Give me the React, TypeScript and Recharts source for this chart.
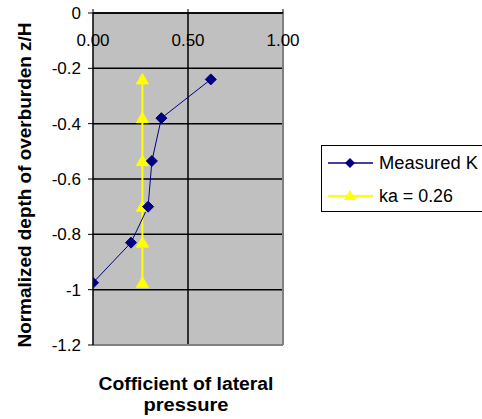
import React from "react";
import { LineChart, Line, XAxis, YAxis, CartesianGrid, ReferenceLine, Legend } from "recharts";

// normalized depth z/H of each reading
const depthLevels = [-0.24, -0.38, -0.535, -0.7, -0.83, -0.975];
// measured lateral pressure coefficient at those depths
const measuredK = [0.62, 0.36, 0.31, 0.29, 0.2, 0.0];
// active coefficient, constant
const kaValue = 0.26;
const xTicks = [0, 0.5, 1];
const yTicks = [0, -0.2, -0.4, -0.6, -0.8, -1, -1.2];

const measuredData = depthLevels.map((z, i) => ({ k: measuredK[i], z }));
const kaData = depthLevels.map((z) => ({ k: kaValue, z }));

const FONT = '"Liberation Sans", Arial, sans-serif';
const NAVY = "#000080";
const YELLOW = "#ffff00";

function Diamond(props: any) {
  const { cx, cy } = props;
  if (cx == null || cy == null) return null;
  return (
    <polygon
      points={`${cx},${cy - 5.5} ${cx + 5.5},${cy} ${cx},${cy + 5.5} ${cx - 5.5},${cy}`}
      fill={NAVY}
      stroke={NAVY}
    />
  );
}

function Triangle(props: any) {
  const { cx, cy } = props;
  if (cx == null || cy == null) return null;
  return (
    <polygon
      points={`${cx},${cy - 6} ${cx + 6},${cy + 4.5} ${cx - 6},${cy + 4.5}`}
      fill={YELLOW}
      stroke={YELLOW}
    />
  );
}

function TopTick(props: any) {
  const { x, y, payload } = props;
  return (
    <text x={x} y={y} dy={37} textAnchor="middle" fontSize={17} fontFamily={FONT} fill="#000">
      {Number(payload.value).toFixed(2)}
    </text>
  );
}

function YTitle(props: any) {
  const vb = props.viewBox || {};
  const cx = 25;
  const cy = (vb.y ?? 0) + (vb.height ?? 0) / 2 + 6;
  return (
    <text
      x={cx}
      y={cy}
      transform={`rotate(-90 ${cx} ${cy})`}
      textAnchor="middle"
      dominantBaseline="central"
      fontSize={18}
      fontWeight="bold"
      fontFamily={FONT}
      fill="#000"
      textLength={325}
      lengthAdjust="spacingAndGlyphs"
    >
      Normalized depth of overburden z/H
    </text>
  );
}

function LegendBox() {
  return (
    <svg width={170} height={67} style={{ display: "block" }}>
      <rect x={0.5} y={0.5} width={169} height={66} fill="#fff" stroke="#000" />
      <line x1={7} y1={18} x2={52} y2={18} stroke={NAVY} strokeWidth={1.5} />
      <polygon points="29,13 34,18 29,23 24,18" fill={NAVY} />
      <text x={58} y={24} fontSize={18} fontFamily={FONT} fill="#000" textLength={99} lengthAdjust="spacingAndGlyphs">
        Measured K
      </text>
      <line x1={7} y1={51} x2={52} y2={51} stroke={YELLOW} strokeWidth={2} />
      <polygon points="29,45 35,55 23,55" fill={YELLOW} />
      <text x={58} y={57} fontSize={18} fontFamily={FONT} fill="#000" textLength={74} lengthAdjust="spacingAndGlyphs">
        ka = 0.26
      </text>
    </svg>
  );
}

export default function App() {
  return (
    <div style={{ position: "absolute", left: 0, top: 0, width: 482, height: 419, overflow: "hidden", background: "#fff" }}>
      <LineChart width={482} height={419} margin={{ top: 12, right: 199, bottom: 74, left: 0 }}>
        <CartesianGrid vertical={false} stroke="#000" strokeWidth={1.5} fill="#c0c0c0" fillOpacity={1} />
        <XAxis
          type="number"
          dataKey="k"
          orientation="top"
          domain={[0, 1]}
          ticks={xTicks}
          height={1}
          tickSize={4}
          tickMargin={0}
          tick={<TopTick />}
          axisLine={{ stroke: "#000", strokeWidth: 1.5 }}
          tickLine={{ stroke: "#000" }}
          allowDataOverflow
        />
        <YAxis
          type="number"
          domain={[-1.2, 0]}
          ticks={yTicks}
          width={93}
          tickSize={5}
          tickMargin={7}
          tickFormatter={(v: number) => String(Number(v.toFixed(1)))}
          tick={{ fontSize: 17, fontFamily: FONT, fill: "#000" }}
          axisLine={{ stroke: "#000", strokeWidth: 1.5 }}
          tickLine={{ stroke: "#000" }}
          label={<YTitle />}
        />
        <ReferenceLine x={0.5} stroke="#000" strokeWidth={1.5} />
        <ReferenceLine x={1} stroke="#808080" strokeWidth={2} />
        <ReferenceLine y={-1.2} stroke="#808080" strokeWidth={2} />
        <Legend
          layout="vertical"
          align="center"
          verticalAlign="middle"
          content={() => <LegendBox />}
          wrapperStyle={{ left: 321, top: 145, width: 170, height: 67 }}
        />
        <Line
          data={kaData}
          dataKey="z"
          name="ka = 0.26"
          stroke={YELLOW}
          strokeWidth={2}
          dot={<Triangle />}
          activeDot={false}
          isAnimationActive={false}
        />
        <Line
          data={measuredData}
          dataKey="z"
          name="Measured K"
          stroke={NAVY}
          strokeWidth={1}
          dot={<Diamond />}
          activeDot={false}
          isAnimationActive={false}
        />
      </LineChart>
      <svg width={482} height={50} style={{ position: "absolute", left: 0, top: 369 }}>
        <text x={186} y={21} textAnchor="middle" fontSize={18} fontWeight="bold" fontFamily={FONT} fill="#000" textLength={175} lengthAdjust="spacingAndGlyphs">
          Cofficient of lateral
        </text>
        <text x={186} y={42} textAnchor="middle" fontSize={18} fontWeight="bold" fontFamily={FONT} fill="#000" textLength={85} lengthAdjust="spacingAndGlyphs">
          pressure
        </text>
      </svg>
    </div>
  );
}
